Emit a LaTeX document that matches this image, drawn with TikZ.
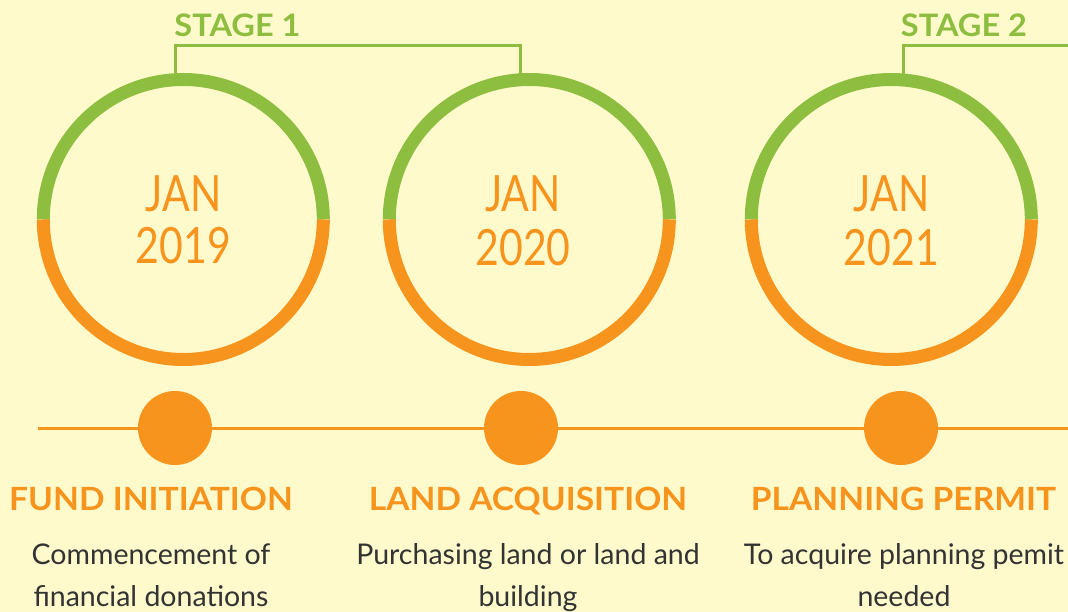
\documentclass[tikz,border=0pt]{standalone}
\usepackage{fontspec}
\setmainfont{Lato}
\newfontfamily\datefont[FakeStretch=0.82]{Lato}
\newfontfamily\headfont[FakeStretch=1.05]{Lato}
\definecolor{bg}{HTML}{FEFACC}
\definecolor{grn}{HTML}{8DBE3F}
\definecolor{org}{HTML}{F7941D}
\definecolor{txt}{HTML}{333333}
\tikzset{
  ring/.style={circle, minimum size=280pt, inner sep=0pt},
  dot/.style={circle, fill=org, minimum size=74pt, inner sep=0pt},
  datetext/.style={anchor=base, text=org, font=\datefont\fontsize{50}{50}\selectfont},
  stagetext/.style={anchor=base, text=grn, font=\headfont\bfseries\fontsize{31}{31}\selectfont},
  titletext/.style={anchor=base, text=org, font=\headfont\bfseries\fontsize{32}{32}\selectfont},
  desctext/.style={anchor=base, text=txt, font=\fontsize{28.5}{28.5}\selectfont},
  bracket/.style={grn, line width=3pt},
  timeline/.style={org, line width=3pt}
}
\begin{document}
\begin{tikzpicture}[x=1pt,y=-1pt]
\fill[bg] (0,0) rectangle (1068,612);
\useasboundingbox (0,0) rectangle (1068,612);
% rings
\foreach \n/\x in {c1/183.5, c2/529.5, c3/891.5}{
  \node[ring] (\n) at (\x,219.5) {};
  \draw[grn, line width=13pt] (\n.west) arc[start angle=180, end angle=0, radius=140pt];
  \draw[org, line width=13pt] (\n.west) arc[start angle=-180, end angle=0, radius=140pt];
}
% dates
\node[datetext] (j1) at (183.5,212) {JAN};
\node[datetext] (y1) at (183.5,264) {2019};
\node[datetext] (j2) at (523,212) {JAN};
\node[datetext] (y2) at (523,266) {2020};
\node[datetext] (j3) at (891.5,212) {JAN};
\node[datetext] (y3) at (891.5,266) {2021};
% stage brackets
\coordinate (b1a) at (175,74);
\coordinate (b1b) at (520,74);
\coordinate (b2a) at (903,74);
\coordinate (b2b) at (1070,46);
\draw[bracket] (b1a) |- (520,46) -- (b1b);
\draw[bracket] (b2a) |- (b2b);
\node[stagetext] (s1) at (237.5,37) {STAGE 1};
\node[stagetext] (s2) at (964,37) {STAGE 2};
% timeline
\coordinate (tl0) at (38,428);
\coordinate (tl1) at (1070,428);
\draw[timeline] (tl0) -- (tl1);
\node[dot] (d1) at (175,428) {};
\node[dot] (d2) at (521,428) {};
\node[dot] (d3) at (901,428) {};
% titles
\node[titletext] (t1) at (151,510) {FUND INITIATION};
\node[titletext] (t2) at (528,510) {LAND ACQUISITION};
\node[titletext] (t3) at (903.5,510) {PLANNING PERMIT};
% descriptions
\node[desctext] (a1) at (151,564) {Commencement of};
\node[desctext] (b1) at (151,606) {financial donations};
\node[desctext] (a2) at (528,564) {Purchasing land or land and};
\node[desctext] (b2) at (528,606) {building};
\node[desctext] (a3) at (904,564) {To acquire planning pemit};
\node[desctext] (b3) at (904,606) {needed};
\end{tikzpicture}
\end{document}
